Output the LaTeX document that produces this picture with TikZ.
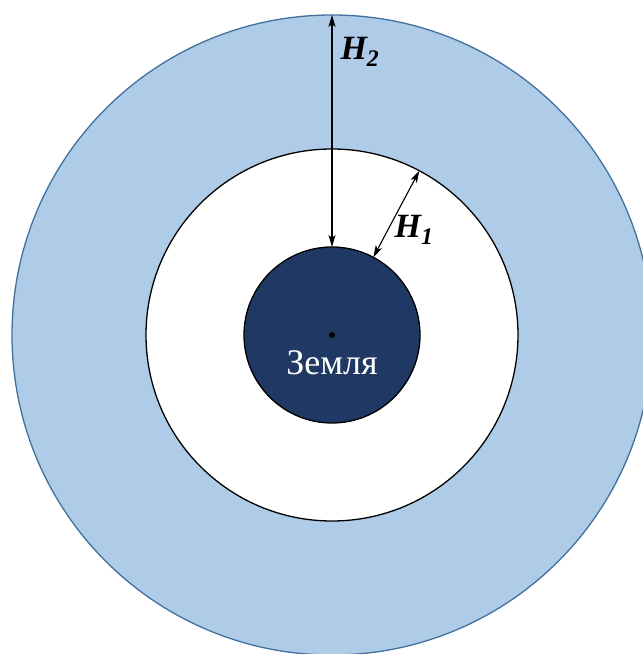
\documentclass[tikz,border=0pt]{standalone}
\usepackage{fontspec}
\setmainfont{Liberation Serif}
\usetikzlibrary{arrows.meta,positioning}
\definecolor{OrbitBlue}{HTML}{AECBE8}
\definecolor{OrbitEdge}{HTML}{41719C}
\definecolor{EarthNavy}{HTML}{1F3864}
\tikzset{
  ring/.style={circle,draw,outer sep=0pt,inner sep=0pt,line width=1.3pt},
  heightarrow/.style={{Stealth[length=12pt,width=7pt,inset=3pt]}-{Stealth[length=12pt,width=7pt,inset=3pt]},line width=1.1pt},
  heightlabel/.style={font=\fontsize{34}{40}\selectfont\bfseries\itshape,inner sep=2pt},
  earthname/.style={font=\fontsize{36}{40}\selectfont,text=white}
}

\begin{document}
\begin{tikzpicture}[x=1pt,y=1pt]
  \useasboundingbox (0,0) rectangle (643,654);
  % orbits and the Earth
  \node[ring,draw=OrbitEdge,fill=OrbitBlue,minimum size=640pt] (outer) at (332,319) {};
  \node[ring,draw=black,fill=white,minimum size=372pt] (middle) at (332,319) {};
  \node[ring,draw=black,fill=EarthNavy,minimum size=176pt] (earth) at (332,319) {};
  \fill (earth.center) circle (3pt);
  \node[earthname,below=12pt of earth.center] (name) {Земля};

  % heights
  \draw[heightarrow] (earth.north) -- (outer.north)
    node[heightlabel,pos=0.84,right=6pt] (h2) {H\textsubscript{2}};
  \draw[heightarrow] (earth.62) -- (middle.62)
    node[heightlabel,pos=0.32,anchor=west,xshift=4pt] (h1) {H\textsubscript{1}};
\end{tikzpicture}
\end{document}
